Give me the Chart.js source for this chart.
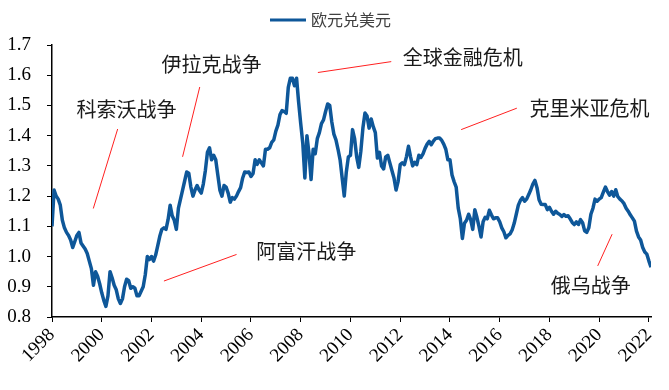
<!DOCTYPE html>
<html>
<head>
<meta charset="utf-8">
<script src="https://cdn.jsdelivr.net/npm/chart.js@4.4.0/dist/chart.umd.min.js"></script>
<style>
  html, body { margin: 0; padding: 0; background: #fff; }
  #wrap { width: 669px; height: 390px; position: relative; }
</style>
</head>
<body>
<div id="wrap"><canvas id="fxChart"></canvas></div>
<script>
// EUR/USD, monthly readings, one array per 4-year block
const startYear = 1998;
const eur1998 = [1.10, 1.22, 1.20, 1.19, 1.17, 1.12, 1.095, 1.08, 1.07, 1.055, 1.03, 1.05,
  1.07, 1.08, 1.045, 1.035, 1.025, 1.01, 0.985, 0.96, 0.905, 0.95, 0.935, 0.91,
  0.88, 0.855, 0.835, 0.87, 0.95, 0.93, 0.905, 0.89, 0.86, 0.845, 0.86, 0.90,
  0.925, 0.92, 0.895, 0.90, 0.895, 0.87, 0.87, 0.885, 0.90, 0.94, 1.0, 0.99];
const eur2002 = [1.00, 0.985, 1.005, 1.035, 1.067, 1.09, 1.095, 1.09, 1.122, 1.17, 1.135, 1.12,
  1.09, 1.16, 1.19, 1.22, 1.25, 1.28, 1.276, 1.23, 1.20, 1.22, 1.235, 1.22,
  1.21, 1.24, 1.285, 1.345, 1.36, 1.32, 1.335, 1.32, 1.27, 1.22, 1.20, 1.235,
  1.23, 1.21, 1.18, 1.195, 1.19, 1.20, 1.215, 1.228, 1.26, 1.28, 1.278, 1.28];
const eur2006 = [1.265, 1.275, 1.32, 1.305, 1.32, 1.31, 1.30, 1.355, 1.355, 1.36, 1.378, 1.386,
  1.415, 1.435, 1.47, 1.483, 1.48, 1.474, 1.56, 1.59, 1.59, 1.565, 1.59, 1.51,
  1.44, 1.375, 1.26, 1.40, 1.34, 1.255, 1.355, 1.34, 1.39, 1.41, 1.44, 1.452,
  1.48, 1.505, 1.50, 1.445, 1.405, 1.386, 1.355, 1.32, 1.26, 1.20, 1.28, 1.33];
const eur2010 = [1.335, 1.42, 1.39, 1.33, 1.295, 1.348, 1.425, 1.475, 1.465, 1.425, 1.455, 1.43,
  1.41, 1.326, 1.345, 1.30, 1.29, 1.33, 1.335, 1.31, 1.285, 1.26, 1.22, 1.249,
  1.304, 1.31, 1.304, 1.33, 1.365, 1.33, 1.30, 1.312, 1.304, 1.335, 1.328, 1.34,
  1.358, 1.372, 1.381, 1.37, 1.382, 1.39, 1.392, 1.392, 1.385, 1.372, 1.355, 1.32];
const eur2014 = [1.32, 1.27, 1.248, 1.23, 1.16, 1.125, 1.06, 1.11, 1.12, 1.14, 1.122, 1.09,
  1.155, 1.13, 1.10, 1.065, 1.115, 1.13, 1.125, 1.153, 1.138, 1.125, 1.128, 1.128,
  1.115, 1.095, 1.082, 1.062, 1.07, 1.075, 1.088, 1.11, 1.14, 1.17, 1.186, 1.195,
  1.183, 1.19, 1.205, 1.221, 1.24, 1.252, 1.228, 1.188, 1.173, 1.172, 1.172, 1.155];
const eur2018 = [1.163, 1.15, 1.14, 1.15, 1.143, 1.139, 1.133, 1.139, 1.133, 1.135, 1.125, 1.113,
  1.106, 1.115, 1.106, 1.122, 1.112, 1.085, 1.08, 1.095, 1.14, 1.16, 1.19, 1.183,
  1.19, 1.195, 1.213, 1.23, 1.215, 1.203, 1.215, 1.20, 1.221, 1.198, 1.19, 1.184,
  1.175, 1.16, 1.15, 1.138, 1.128, 1.117, 1.084, 1.065, 1.055, 1.03, 1.015, 1.008,
  0.985, 0.965];

const seriesName = '欧元兑美元';
const yTicks = [0.8, 0.9, 1.0, 1.1, 1.2, 1.3, 1.4, 1.5, 1.6, 1.7];
const xTickYears = [1998, 2000, 2002, 2004, 2006, 2008, 2010, 2012, 2014, 2016, 2018, 2020, 2022];

// event notes: label, label centre, leader line (all in year / rate units)
const events = [
  { text: '科索沃战争', at: [2001.0, 1.486], from: [2000.64, 1.422], to: [1999.66, 1.159] },
  { text: '伊拉克战争', at: [2004.41, 1.637], from: [2003.94, 1.561], to: [2003.25, 1.33] },
  { text: '阿富汗战争', at: [2008.22, 1.016], from: [2005.42, 1.007], to: [2002.5, 0.919] },
  { text: '全球金融危机', at: [2014.51, 1.659], from: [2011.64, 1.645], to: [2008.69, 1.609] },
  { text: '克里米亚危机', at: [2019.61, 1.491], from: [2016.69, 1.491], to: [2014.45, 1.42] },
  { text: '俄乌战争', at: [2019.66, 0.903], from: [2020.52, 1.074], to: [2019.94, 0.969] }
];

const values = [].concat(eur1998, eur2002, eur2006, eur2010, eur2014, eur2018);
const points = values.map((v, i) => ({ x: startYear + i / 12, y: v }));
const lastX = points[points.length - 1].x;

const BLUE = '#0e5799';
const serif = '"Liberation Serif", "Times New Roman", serif';
const cjk = '"Noto Sans CJK SC", sans-serif';

const notesPlugin = {
  id: 'notes',
  afterDatasetsDraw(chart) {
    const { ctx, scales: { x, y } } = chart;
    ctx.save();
    events.forEach(e => {
      ctx.strokeStyle = '#ff2020';
      ctx.lineWidth = 1;
      ctx.beginPath();
      ctx.moveTo(x.getPixelForValue(e.from[0]), y.getPixelForValue(e.from[1]));
      ctx.lineTo(x.getPixelForValue(e.to[0]), y.getPixelForValue(e.to[1]));
      ctx.stroke();
      ctx.fillStyle = '#1a1a1a';
      ctx.font = '20px ' + cjk;
      ctx.textAlign = 'center';
      ctx.textBaseline = 'middle';
      ctx.fillText(e.text, x.getPixelForValue(e.at[0]), y.getPixelForValue(e.at[1]));
    });
    ctx.restore();
  }
};

const legendPlugin = {
  id: 'topLegend',
  afterDraw(chart) {
    const ctx = chart.ctx;
    ctx.save();
    ctx.font = '16px ' + cjk;
    const tw = ctx.measureText(seriesName).width;
    const total = 36 + 5 + tw;
    const x0 = chart.width / 2 - total / 2 - 4;
    const yc = 20;
    ctx.strokeStyle = BLUE;
    ctx.lineWidth = 3;
    ctx.beginPath();
    ctx.moveTo(x0, yc);
    ctx.lineTo(x0 + 36, yc);
    ctx.stroke();
    ctx.fillStyle = '#404040';
    ctx.textAlign = 'left';
    ctx.textBaseline = 'middle';
    ctx.fillText(seriesName, x0 + 41, yc);
    ctx.restore();
  }
};

new Chart(document.getElementById('fxChart'), {
  type: 'line',
  data: {
    datasets: [{
      label: seriesName,
      data: points,
      borderColor: BLUE,
      borderWidth: 3.5,
      pointRadius: 0,
      tension: 0,
      borderJoinStyle: 'round'
    }]
  },
  options: {
    responsive: true,
    maintainAspectRatio: false,
    animation: false,
    layout: { padding: { top: 45, right: 18, bottom: 0, left: 0 } },
    plugins: {
      legend: { display: false },
      tooltip: { enabled: false }
    },
    scales: {
      x: {
        type: 'linear',
        min: startYear,
        max: lastX,
        afterFit: s => { s.height = 73; },
        afterBuildTicks: s => { s.ticks = xTickYears.map(v => ({ value: v })); },
        ticks: {
          autoSkip: false,
          minRotation: 45,
          maxRotation: 45,
          padding: 2,
          color: '#000',
          font: { family: serif, size: 19 },
          callback: v => String(v)
        },
        grid: { display: true, drawOnChartArea: false, drawTicks: true, tickLength: 5, color: '#000' },
        border: { display: true, color: '#000', width: 1.5 }
      },
      y: {
        min: 0.8,
        max: 1.7,
        afterFit: s => { s.width = 52; },
        afterBuildTicks: s => { s.ticks = yTicks.map(v => ({ value: v })); },
        ticks: {
          padding: 16,
          color: '#000',
          font: { family: serif, size: 19 },
          callback: v => v.toFixed(1)
        },
        grid: { display: true, drawOnChartArea: false, drawTicks: true, tickLength: 5, color: '#000' },
        border: { display: true, color: '#000', width: 1.5 }
      }
    }
  },
  plugins: [notesPlugin, legendPlugin]
});
</script>
</body>
</html>
